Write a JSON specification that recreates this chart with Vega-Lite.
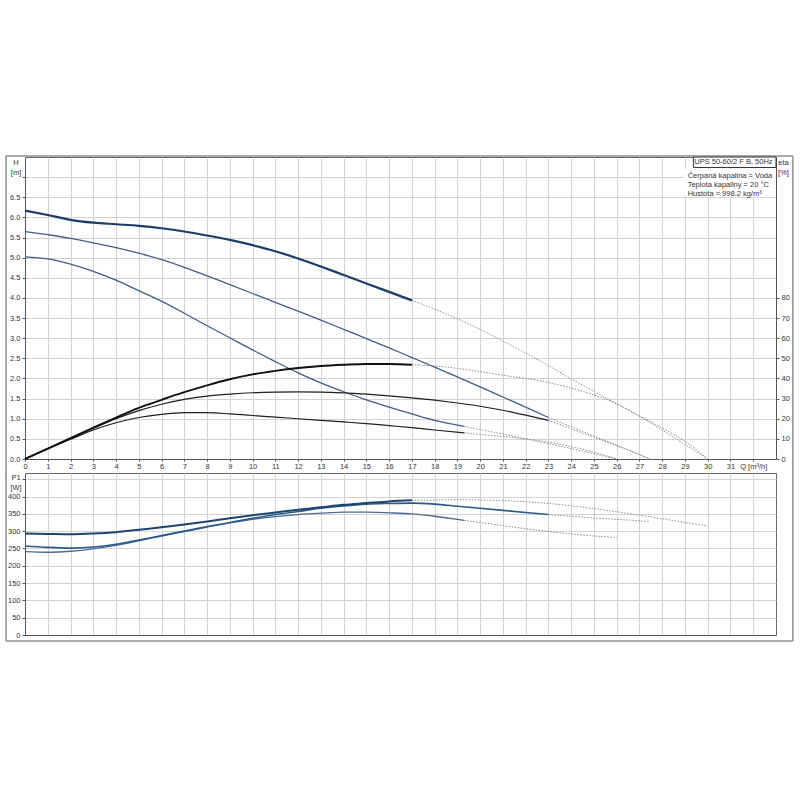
{
  "$schema": "https://vega.github.io/schema/vega-lite/v6.json",
  "background": "white",
  "padding": {"left": 4, "top": 154, "right": 4, "bottom": 4},
  "autosize": {"type": "pad"},
  "spacing": 14,
  "bounds": "flush",
  "datasets": {
    "hs": [
      {"s":"1","q":0,"v":6.17},{"s":"1","q":1,"v":6.06},{"s":"1","q":2,"v":5.94},{"s":"1","q":3,"v":5.87},{"s":"1","q":4,"v":5.83},{"s":"1","q":5,"v":5.79},{"s":"1","q":6,"v":5.73},{"s":"1","q":7,"v":5.65},{"s":"1","q":8,"v":5.55},{"s":"1","q":9,"v":5.44},{"s":"1","q":10,"v":5.31},{"s":"1","q":11,"v":5.16},{"s":"1","q":12,"v":4.98},{"s":"1","q":13,"v":4.78},{"s":"1","q":14,"v":4.57},{"s":"1","q":15,"v":4.36},{"s":"1","q":16,"v":4.15},{"s":"1","q":17,"v":3.94},
      {"s":"2","q":0,"v":5.65},{"s":"2","q":1,"v":5.57},{"s":"2","q":2,"v":5.48},{"s":"2","q":3,"v":5.37},{"s":"2","q":4,"v":5.25},{"s":"2","q":5,"v":5.11},{"s":"2","q":6,"v":4.95},{"s":"2","q":7,"v":4.76},{"s":"2","q":8,"v":4.55},{"s":"2","q":9,"v":4.33},{"s":"2","q":10,"v":4.11},{"s":"2","q":11,"v":3.89},{"s":"2","q":12,"v":3.67},{"s":"2","q":13,"v":3.45},{"s":"2","q":14,"v":3.22},{"s":"2","q":15,"v":2.99},{"s":"2","q":16,"v":2.76},{"s":"2","q":17,"v":2.52},{"s":"2","q":18,"v":2.28},{"s":"2","q":19,"v":2.04},{"s":"2","q":20,"v":1.79},{"s":"2","q":21,"v":1.54},{"s":"2","q":22,"v":1.29},{"s":"2","q":23,"v":1.03},
      {"s":"3","q":0,"v":5.02},{"s":"3","q":1,"v":4.97},{"s":"3","q":2,"v":4.84},{"s":"3","q":3,"v":4.66},{"s":"3","q":4,"v":4.44},{"s":"3","q":5,"v":4.18},{"s":"3","q":6,"v":3.92},{"s":"3","q":7,"v":3.62},{"s":"3","q":8,"v":3.31},{"s":"3","q":9,"v":3.01},{"s":"3","q":10,"v":2.71},{"s":"3","q":11,"v":2.42},{"s":"3","q":12,"v":2.14},{"s":"3","q":13,"v":1.89},{"s":"3","q":14,"v":1.67},{"s":"3","q":15,"v":1.47},{"s":"3","q":16,"v":1.29},{"s":"3","q":17,"v":1.12},{"s":"3","q":18,"v":0.96},{"s":"3","q":19.3,"v":0.81}
    ],
    "hx": [
      {"s":"1","q":17,"v":3.94},{"s":"1","q":18,"v":3.72},{"s":"1","q":19,"v":3.48},{"s":"1","q":20,"v":3.22},{"s":"1","q":21,"v":2.93},{"s":"1","q":22,"v":2.63},{"s":"1","q":23,"v":2.32},{"s":"1","q":24,"v":1.99},{"s":"1","q":25,"v":1.68},{"s":"1","q":26,"v":1.37},{"s":"1","q":27,"v":1.07},{"s":"1","q":28,"v":0.77},{"s":"1","q":29,"v":0.44},{"s":"1","q":30,"v":0},
      {"s":"2","q":23,"v":1.03},{"s":"2","q":24,"v":0.8},{"s":"2","q":25,"v":0.57},{"s":"2","q":26,"v":0.34},{"s":"2","q":27,"v":0.11},{"s":"2","q":27.45,"v":0},
      {"s":"3","q":19.3,"v":0.81},{"s":"3","q":20,"v":0.73},{"s":"3","q":21,"v":0.62},{"s":"3","q":22,"v":0.5},{"s":"3","q":23,"v":0.38},{"s":"3","q":24,"v":0.26},{"s":"3","q":25,"v":0.13},{"s":"3","q":26,"v":0}
    ],
    "es": [
      {"s":"1","q":0,"v":0},{"s":"1","q":1,"v":5.2},{"s":"1","q":2,"v":10.4},{"s":"1","q":3,"v":15.6},{"s":"1","q":4,"v":20.6},{"s":"1","q":5,"v":25.4},{"s":"1","q":6,"v":29.4},{"s":"1","q":7,"v":33.2},{"s":"1","q":8,"v":36.6},{"s":"1","q":9,"v":39.6},{"s":"1","q":10,"v":42},{"s":"1","q":11,"v":43.8},{"s":"1","q":12,"v":45.2},{"s":"1","q":13,"v":46.2},{"s":"1","q":14,"v":46.8},{"s":"1","q":15,"v":47.2},{"s":"1","q":16,"v":47.2},{"s":"1","q":17,"v":46.8},
      {"s":"2","q":0,"v":0},{"s":"2","q":1,"v":5.2},{"s":"2","q":2,"v":10.2},{"s":"2","q":3,"v":15.2},{"s":"2","q":4,"v":20},{"s":"2","q":5,"v":24},{"s":"2","q":6,"v":27.2},{"s":"2","q":7,"v":29.6},{"s":"2","q":8,"v":31.2},{"s":"2","q":9,"v":32.2},{"s":"2","q":10,"v":32.9},{"s":"2","q":11,"v":33.2},{"s":"2","q":12,"v":33.3},{"s":"2","q":13,"v":33.2},{"s":"2","q":14,"v":32.8},{"s":"2","q":15,"v":32.2},{"s":"2","q":16,"v":31.4},{"s":"2","q":17,"v":30.4},{"s":"2","q":18,"v":29.2},{"s":"2","q":19,"v":27.8},{"s":"2","q":20,"v":26.2},{"s":"2","q":21,"v":24.2},{"s":"2","q":22,"v":21.8},{"s":"2","q":23,"v":19.2},
      {"s":"3","q":0,"v":0},{"s":"3","q":1,"v":5},{"s":"3","q":2,"v":9.8},{"s":"3","q":3,"v":14.4},{"s":"3","q":4,"v":18},{"s":"3","q":5,"v":20.6},{"s":"3","q":6,"v":22.2},{"s":"3","q":7,"v":23},{"s":"3","q":8,"v":23},{"s":"3","q":9,"v":22.4},{"s":"3","q":10,"v":21.6},{"s":"3","q":11,"v":20.8},{"s":"3","q":12,"v":20},{"s":"3","q":13,"v":19.2},{"s":"3","q":14,"v":18.4},{"s":"3","q":15,"v":17.6},{"s":"3","q":16,"v":16.6},{"s":"3","q":17,"v":15.6},{"s":"3","q":18,"v":14.4},{"s":"3","q":19.3,"v":13}
    ],
    "ex": [
      {"s":"1","q":17,"v":46.8},{"s":"1","q":18,"v":46.2},{"s":"1","q":19,"v":45},{"s":"1","q":20,"v":43.4},{"s":"1","q":21,"v":41.6},{"s":"1","q":22,"v":40},{"s":"1","q":23,"v":38},{"s":"1","q":24,"v":35.2},{"s":"1","q":25,"v":31.8},{"s":"1","q":26,"v":27.4},{"s":"1","q":27,"v":21.2},{"s":"1","q":28,"v":14.4},{"s":"1","q":29,"v":7.2},{"s":"1","q":30,"v":0},
      {"s":"2","q":23,"v":19.2},{"s":"2","q":24,"v":15},{"s":"2","q":25,"v":10.8},{"s":"2","q":26,"v":6.6},{"s":"2","q":27,"v":2.2},{"s":"2","q":27.45,"v":0},
      {"s":"3","q":19.3,"v":13},{"s":"3","q":20,"v":12.2},{"s":"3","q":21,"v":11.2},{"s":"3","q":22,"v":10},{"s":"3","q":23,"v":8.4},{"s":"3","q":24,"v":6.2},{"s":"3","q":25,"v":3.4},{"s":"3","q":26,"v":0}
    ],
    "ps": [
      {"s":"1","q":0,"v":293},{"s":"1","q":1,"v":292},{"s":"1","q":2,"v":291},{"s":"1","q":3,"v":293},{"s":"1","q":4,"v":297},{"s":"1","q":5,"v":304},{"s":"1","q":6,"v":311},{"s":"1","q":7,"v":319},{"s":"1","q":8,"v":328},{"s":"1","q":9,"v":337},{"s":"1","q":10,"v":346},{"s":"1","q":11,"v":354},{"s":"1","q":12,"v":362},{"s":"1","q":13,"v":369},{"s":"1","q":14,"v":376},{"s":"1","q":15,"v":381},{"s":"1","q":16,"v":386},{"s":"1","q":17,"v":389},
      {"s":"2","q":0,"v":257},{"s":"2","q":1,"v":253},{"s":"2","q":2,"v":251},{"s":"2","q":3,"v":254},{"s":"2","q":4,"v":262},{"s":"2","q":5,"v":274},{"s":"2","q":6,"v":287},{"s":"2","q":7,"v":300},{"s":"2","q":8,"v":313},{"s":"2","q":9,"v":325},{"s":"2","q":10,"v":337},{"s":"2","q":11,"v":348},{"s":"2","q":12,"v":357},{"s":"2","q":13,"v":366},{"s":"2","q":14,"v":373},{"s":"2","q":15,"v":378},{"s":"2","q":16,"v":380},{"s":"2","q":17,"v":381},{"s":"2","q":18,"v":378},{"s":"2","q":19,"v":372},{"s":"2","q":20,"v":366},{"s":"2","q":21,"v":360},{"s":"2","q":22,"v":354},{"s":"2","q":23,"v":348},
      {"s":"3","q":0,"v":241},{"s":"3","q":1,"v":239},{"s":"3","q":2,"v":242},{"s":"3","q":3,"v":249},{"s":"3","q":4,"v":259},{"s":"3","q":5,"v":272},{"s":"3","q":6,"v":286},{"s":"3","q":7,"v":299},{"s":"3","q":8,"v":312},{"s":"3","q":9,"v":324},{"s":"3","q":10,"v":334},{"s":"3","q":11,"v":342},{"s":"3","q":12,"v":348},{"s":"3","q":13,"v":352},{"s":"3","q":14,"v":355},{"s":"3","q":15,"v":355},{"s":"3","q":16,"v":353},{"s":"3","q":17,"v":350},{"s":"3","q":18,"v":343},{"s":"3","q":19,"v":334},{"s":"3","q":19.3,"v":331}
    ],
    "px": [
      {"s":"1","q":17,"v":389},{"s":"1","q":18,"v":390},{"s":"1","q":19,"v":391},{"s":"1","q":20,"v":390},{"s":"1","q":21,"v":388},{"s":"1","q":22,"v":385},{"s":"1","q":23,"v":380},{"s":"1","q":24,"v":373},{"s":"1","q":25,"v":365},{"s":"1","q":26,"v":356},{"s":"1","q":27,"v":346},{"s":"1","q":28,"v":336},{"s":"1","q":29,"v":325},{"s":"1","q":30,"v":315},
      {"s":"2","q":23,"v":348},{"s":"2","q":24,"v":343},{"s":"2","q":25,"v":338},{"s":"2","q":26,"v":334},{"s":"2","q":27,"v":330},{"s":"2","q":27.45,"v":328},
      {"s":"3","q":19.3,"v":331},{"s":"3","q":20,"v":325},{"s":"3","q":21,"v":316},{"s":"3","q":22,"v":307},{"s":"3","q":23,"v":299},{"s":"3","q":24,"v":292},{"s":"3","q":25,"v":286},{"s":"3","q":26,"v":282}
    ]
  },
  "vconcat": [
    {
      "width": 751,
      "height": 302,
      "layer": [
        {
          "layer": [
            {
              "data": {"values": [{}]},
              "mark": {"type": "rule", "color": "#8f8f8f", "strokeWidth": 1.5},
              "encoding": {
                "x": {"datum": -0.835, "type": "quantitative", "scale": {"domain": [0, 33], "nice": false, "zero": false},
                  "axis": {"values": [0,1,2,3,4,5,6,7,8,9,10,11,12,13,14,15,16,17,18,19,20,21,22,23,24,25,26,27,28,29,30,31,32], "format": "d", "labelExpr": "datum.value == 32 ? 'Q [m³/h]' : datum.label", "title": null, "grid": true, "tickSize": 2, "labelPadding": 1, "labelFlush": false, "labelOverlap": false, "labelBound": false}},
                "y": {"datum": -0.36, "type": "quantitative", "scale": {"domain": [0, 7.5], "nice": false, "zero": false},
                  "axis": {"values": [0,0.5,1,1.5,2,2.5,3,3.5,4,4.5,5,5.5,6,6.5,7], "labelExpr": "datum.value > 6.9 ? '' : format(datum.value, '.1f')", "title": ["H", "[m]"], "titleAngle": 0, "titleAlign": "center", "titleBaseline": "top", "titleX": -9.5, "titleY": 1, "tickSize": 3, "labelPadding": 2, "grid": true, "labelFlush": false, "labelOverlap": false}},
                "y2": {"datum": 7.524}
              }
            },
            {
              "data": {"values": [{}]},
              "mark": {"type": "rule", "color": "#8f8f8f", "strokeWidth": 1.5},
              "encoding": {
                "x": {"datum": 33.74, "type": "quantitative", "scale": {"domain": [0, 33], "nice": false, "zero": false},
                  "axis": {"values": [0,1,2,3,4,5,6,7,8,9,10,11,12,13,14,15,16,17,18,19,20,21,22,23,24,25,26,27,28,29,30,31,32], "format": "d", "labelExpr": "datum.value == 32 ? 'Q [m³/h]' : datum.label", "title": null, "grid": true, "tickSize": 2, "labelPadding": 1, "labelFlush": false, "labelOverlap": false, "labelBound": false}},
                "y": {"datum": -0.36, "type": "quantitative", "scale": {"domain": [0, 7.5], "nice": false, "zero": false},
                  "axis": {"values": [0,0.5,1,1.5,2,2.5,3,3.5,4,4.5,5,5.5,6,6.5,7], "labelExpr": "datum.value > 6.9 ? '' : format(datum.value, '.1f')", "title": ["H", "[m]"], "titleAngle": 0, "titleAlign": "center", "titleBaseline": "top", "titleX": -9.5, "titleY": 1, "tickSize": 3, "labelPadding": 2, "grid": true, "labelFlush": false, "labelOverlap": false}},
                "y2": {"datum": 7.524}
              }
            },
            {
              "data": {"values": [{}]},
              "mark": {"type": "rule", "color": "#8f8f8f", "strokeWidth": 1.5},
              "encoding": {
                "x": {"datum": -0.835, "type": "quantitative", "scale": {"domain": [0, 33], "nice": false, "zero": false},
                  "axis": {"values": [0,1,2,3,4,5,6,7,8,9,10,11,12,13,14,15,16,17,18,19,20,21,22,23,24,25,26,27,28,29,30,31,32], "format": "d", "labelExpr": "datum.value == 32 ? 'Q [m³/h]' : datum.label", "title": null, "grid": true, "tickSize": 2, "labelPadding": 1, "labelFlush": false, "labelOverlap": false, "labelBound": false}},
                "x2": {"datum": 33.74},
                "y": {"datum": 7.524, "type": "quantitative", "scale": {"domain": [0, 7.5], "nice": false, "zero": false},
                  "axis": {"values": [0,0.5,1,1.5,2,2.5,3,3.5,4,4.5,5,5.5,6,6.5,7], "labelExpr": "datum.value > 6.9 ? '' : format(datum.value, '.1f')", "title": ["H", "[m]"], "titleAngle": 0, "titleAlign": "center", "titleBaseline": "top", "titleX": -9.5, "titleY": 1, "tickSize": 3, "labelPadding": 2, "grid": true, "labelFlush": false, "labelOverlap": false}}
              }
            },
            {
              "data": {"values": [{}]},
              "mark": {"type": "rect", "fill": "white", "strokeWidth": 0},
              "encoding": {
                "x": {"datum": 28.95, "type": "quantitative", "scale": {"domain": [0, 33], "nice": false, "zero": false},
                  "axis": {"values": [0,1,2,3,4,5,6,7,8,9,10,11,12,13,14,15,16,17,18,19,20,21,22,23,24,25,26,27,28,29,30,31,32], "format": "d", "labelExpr": "datum.value == 32 ? 'Q [m³/h]' : datum.label", "title": null, "grid": true, "tickSize": 2, "labelPadding": 1, "labelFlush": false, "labelOverlap": false, "labelBound": false}},
                "x2": {"datum": 32.95},
                "y": {"datum": 7.2, "type": "quantitative", "scale": {"domain": [0, 7.5], "nice": false, "zero": false},
                  "axis": {"values": [0,0.5,1,1.5,2,2.5,3,3.5,4,4.5,5,5.5,6,6.5,7], "labelExpr": "datum.value > 6.9 ? '' : format(datum.value, '.1f')", "title": ["H", "[m]"], "titleAngle": 0, "titleAlign": "center", "titleBaseline": "top", "titleX": -9.5, "titleY": 1, "tickSize": 3, "labelPadding": 2, "grid": true, "labelFlush": false, "labelOverlap": false}},
                "y2": {"datum": 6.52}
              }
            },
            {
              "data": {"values": [{}]},
              "mark": {"type": "rect", "fill": "white", "stroke": "#333333", "strokeWidth": 1},
              "encoding": {
                "x": {"datum": 29.37, "type": "quantitative", "scale": {"domain": [0, 33], "nice": false, "zero": false},
                  "axis": {"values": [0,1,2,3,4,5,6,7,8,9,10,11,12,13,14,15,16,17,18,19,20,21,22,23,24,25,26,27,28,29,30,31,32], "format": "d", "labelExpr": "datum.value == 32 ? 'Q [m³/h]' : datum.label", "title": null, "grid": true, "tickSize": 2, "labelPadding": 1, "labelFlush": false, "labelOverlap": false, "labelBound": false}},
                "x2": {"datum": 33},
                "y": {"datum": 7.5, "type": "quantitative", "scale": {"domain": [0, 7.5], "nice": false, "zero": false},
                  "axis": {"values": [0,0.5,1,1.5,2,2.5,3,3.5,4,4.5,5,5.5,6,6.5,7], "labelExpr": "datum.value > 6.9 ? '' : format(datum.value, '.1f')", "title": ["H", "[m]"], "titleAngle": 0, "titleAlign": "center", "titleBaseline": "top", "titleX": -9.5, "titleY": 1, "tickSize": 3, "labelPadding": 2, "grid": true, "labelFlush": false, "labelOverlap": false}},
                "y2": {"datum": 7.24}
              }
            },
            {
              "data": {"values": [{"t": "UPS 50-60/2 F B, 50Hz"}]},
              "mark": {"type": "text", "align": "right", "baseline": "middle", "fontSize": 7.5, "font": "Liberation Sans", "color": "#333333"},
              "encoding": {
                "x": {"datum": 32.85, "type": "quantitative", "scale": {"domain": [0, 33], "nice": false, "zero": false},
                  "axis": {"values": [0,1,2,3,4,5,6,7,8,9,10,11,12,13,14,15,16,17,18,19,20,21,22,23,24,25,26,27,28,29,30,31,32], "format": "d", "labelExpr": "datum.value == 32 ? 'Q [m³/h]' : datum.label", "title": null, "grid": true, "tickSize": 2, "labelPadding": 1, "labelFlush": false, "labelOverlap": false, "labelBound": false}},
                "y": {"datum": 7.37, "type": "quantitative", "scale": {"domain": [0, 7.5], "nice": false, "zero": false},
                  "axis": {"values": [0,0.5,1,1.5,2,2.5,3,3.5,4,4.5,5,5.5,6,6.5,7], "labelExpr": "datum.value > 6.9 ? '' : format(datum.value, '.1f')", "title": ["H", "[m]"], "titleAngle": 0, "titleAlign": "center", "titleBaseline": "top", "titleX": -9.5, "titleY": 1, "tickSize": 3, "labelPadding": 2, "grid": true, "labelFlush": false, "labelOverlap": false}},
                "text": {"field": "t"}
              }
            },
            {
              "data": {"values": [{"t": "Čerpaná kapalina = Voda", "k": 7.02}, {"t": "Teplota kapaliny = 20 °C", "k": 6.8}, {"t": "Hustota = 998.2 kg/m³", "k": 6.59}]},
              "mark": {"type": "text", "align": "left", "baseline": "middle", "fontSize": 7.5, "font": "Liberation Sans", "color": "#333333"},
              "encoding": {
                "x": {"datum": 29.12, "type": "quantitative", "scale": {"domain": [0, 33], "nice": false, "zero": false},
                  "axis": {"values": [0,1,2,3,4,5,6,7,8,9,10,11,12,13,14,15,16,17,18,19,20,21,22,23,24,25,26,27,28,29,30,31,32], "format": "d", "labelExpr": "datum.value == 32 ? 'Q [m³/h]' : datum.label", "title": null, "grid": true, "tickSize": 2, "labelPadding": 1, "labelFlush": false, "labelOverlap": false, "labelBound": false}},
                "y": {"field": "k", "type": "quantitative", "scale": {"domain": [0, 7.5], "nice": false, "zero": false},
                  "axis": {"values": [0,0.5,1,1.5,2,2.5,3,3.5,4,4.5,5,5.5,6,6.5,7], "labelExpr": "datum.value > 6.9 ? '' : format(datum.value, '.1f')", "title": ["H", "[m]"], "titleAngle": 0, "titleAlign": "center", "titleBaseline": "top", "titleX": -9.5, "titleY": 1, "tickSize": 3, "labelPadding": 2, "grid": true, "labelFlush": false, "labelOverlap": false}},
                "text": {"field": "t"}
              }
            },
            {
              "data": {"name": "hx"},
              "mark": {"type": "line", "color": "#8c8c8c", "strokeWidth": 1, "strokeDash": [1.5, 1.5], "interpolate": "monotone"},
              "encoding": {
                "x": {"field": "q", "type": "quantitative", "scale": {"domain": [0, 33], "nice": false, "zero": false},
                  "axis": {"values": [0,1,2,3,4,5,6,7,8,9,10,11,12,13,14,15,16,17,18,19,20,21,22,23,24,25,26,27,28,29,30,31,32], "format": "d", "labelExpr": "datum.value == 32 ? 'Q [m³/h]' : datum.label", "title": null, "grid": true, "tickSize": 2, "labelPadding": 1, "labelFlush": false, "labelOverlap": false, "labelBound": false}},
                "y": {"field": "v", "type": "quantitative", "scale": {"domain": [0, 7.5], "nice": false, "zero": false},
                  "axis": {"values": [0,0.5,1,1.5,2,2.5,3,3.5,4,4.5,5,5.5,6,6.5,7], "labelExpr": "datum.value > 6.9 ? '' : format(datum.value, '.1f')", "title": ["H", "[m]"], "titleAngle": 0, "titleAlign": "center", "titleBaseline": "top", "titleX": -9.5, "titleY": 1, "tickSize": 3, "labelPadding": 2, "grid": true, "labelFlush": false, "labelOverlap": false}},
                "detail": {"field": "s"}
              }
            },
            {
              "data": {"name": "hs"},
              "transform": [{"filter": "datum.s != '1'"}],
              "mark": {"type": "line", "color": "#3f5f86", "strokeWidth": 1.3, "interpolate": "monotone"},
              "encoding": {
                "x": {"field": "q", "type": "quantitative", "scale": {"domain": [0, 33], "nice": false, "zero": false},
                  "axis": {"values": [0,1,2,3,4,5,6,7,8,9,10,11,12,13,14,15,16,17,18,19,20,21,22,23,24,25,26,27,28,29,30,31,32], "format": "d", "labelExpr": "datum.value == 32 ? 'Q [m³/h]' : datum.label", "title": null, "grid": true, "tickSize": 2, "labelPadding": 1, "labelFlush": false, "labelOverlap": false, "labelBound": false}},
                "y": {"field": "v", "type": "quantitative", "scale": {"domain": [0, 7.5], "nice": false, "zero": false},
                  "axis": {"values": [0,0.5,1,1.5,2,2.5,3,3.5,4,4.5,5,5.5,6,6.5,7], "labelExpr": "datum.value > 6.9 ? '' : format(datum.value, '.1f')", "title": ["H", "[m]"], "titleAngle": 0, "titleAlign": "center", "titleBaseline": "top", "titleX": -9.5, "titleY": 1, "tickSize": 3, "labelPadding": 2, "grid": true, "labelFlush": false, "labelOverlap": false}},
                "detail": {"field": "s"}
              }
            },
            {
              "data": {"name": "hs"},
              "transform": [{"filter": "datum.s == '1'"}],
              "mark": {"type": "line", "color": "#1c3c68", "strokeWidth": 2.2, "interpolate": "monotone"},
              "encoding": {
                "x": {"field": "q", "type": "quantitative", "scale": {"domain": [0, 33], "nice": false, "zero": false},
                  "axis": {"values": [0,1,2,3,4,5,6,7,8,9,10,11,12,13,14,15,16,17,18,19,20,21,22,23,24,25,26,27,28,29,30,31,32], "format": "d", "labelExpr": "datum.value == 32 ? 'Q [m³/h]' : datum.label", "title": null, "grid": true, "tickSize": 2, "labelPadding": 1, "labelFlush": false, "labelOverlap": false, "labelBound": false}},
                "y": {"field": "v", "type": "quantitative", "scale": {"domain": [0, 7.5], "nice": false, "zero": false},
                  "axis": {"values": [0,0.5,1,1.5,2,2.5,3,3.5,4,4.5,5,5.5,6,6.5,7], "labelExpr": "datum.value > 6.9 ? '' : format(datum.value, '.1f')", "title": ["H", "[m]"], "titleAngle": 0, "titleAlign": "center", "titleBaseline": "top", "titleX": -9.5, "titleY": 1, "tickSize": 3, "labelPadding": 2, "grid": true, "labelFlush": false, "labelOverlap": false}}
              }
            }
          ]
        },
        {
          "layer": [
            {
              "data": {"name": "ex"},
              "mark": {"type": "line", "color": "#8c8c8c", "strokeWidth": 1, "strokeDash": [1.5, 1.5], "interpolate": "monotone"},
              "encoding": {
                "x": {"field": "q", "type": "quantitative", "scale": {"domain": [0, 33], "nice": false, "zero": false},
                  "axis": {"values": [0,1,2,3,4,5,6,7,8,9,10,11,12,13,14,15,16,17,18,19,20,21,22,23,24,25,26,27,28,29,30,31,32], "format": "d", "labelExpr": "datum.value == 32 ? 'Q [m³/h]' : datum.label", "title": null, "grid": true, "tickSize": 2, "labelPadding": 1, "labelFlush": false, "labelOverlap": false, "labelBound": false}},
                "y": {"field": "v", "type": "quantitative", "scale": {"domain": [0, 150], "nice": false, "zero": false},
                  "axis": {"orient": "right", "values": [0,10,20,30,40,50,60,70,80], "title": ["eta", "[%]"], "titleAngle": 0, "titleAlign": "center", "titleBaseline": "top", "titleX": 7, "titleY": 1, "grid": false, "tickSize": 3, "labelPadding": 2, "labelFlush": false, "labelOverlap": false}},
                "detail": {"field": "s"}
              }
            },
            {
              "data": {"name": "es"},
              "transform": [{"filter": "datum.s != '1'"}],
              "mark": {"type": "line", "color": "#1e1e1e", "strokeWidth": 1.2, "interpolate": "monotone"},
              "encoding": {
                "x": {"field": "q", "type": "quantitative", "scale": {"domain": [0, 33], "nice": false, "zero": false},
                  "axis": {"values": [0,1,2,3,4,5,6,7,8,9,10,11,12,13,14,15,16,17,18,19,20,21,22,23,24,25,26,27,28,29,30,31,32], "format": "d", "labelExpr": "datum.value == 32 ? 'Q [m³/h]' : datum.label", "title": null, "grid": true, "tickSize": 2, "labelPadding": 1, "labelFlush": false, "labelOverlap": false, "labelBound": false}},
                "y": {"field": "v", "type": "quantitative", "scale": {"domain": [0, 150], "nice": false, "zero": false},
                  "axis": {"orient": "right", "values": [0,10,20,30,40,50,60,70,80], "title": ["eta", "[%]"], "titleAngle": 0, "titleAlign": "center", "titleBaseline": "top", "titleX": 7, "titleY": 1, "grid": false, "tickSize": 3, "labelPadding": 2, "labelFlush": false, "labelOverlap": false}},
                "detail": {"field": "s"}
              }
            },
            {
              "data": {"name": "es"},
              "transform": [{"filter": "datum.s == '1'"}],
              "mark": {"type": "line", "color": "#111111", "strokeWidth": 1.9, "interpolate": "monotone"},
              "encoding": {
                "x": {"field": "q", "type": "quantitative", "scale": {"domain": [0, 33], "nice": false, "zero": false},
                  "axis": {"values": [0,1,2,3,4,5,6,7,8,9,10,11,12,13,14,15,16,17,18,19,20,21,22,23,24,25,26,27,28,29,30,31,32], "format": "d", "labelExpr": "datum.value == 32 ? 'Q [m³/h]' : datum.label", "title": null, "grid": true, "tickSize": 2, "labelPadding": 1, "labelFlush": false, "labelOverlap": false, "labelBound": false}},
                "y": {"field": "v", "type": "quantitative", "scale": {"domain": [0, 150], "nice": false, "zero": false},
                  "axis": {"orient": "right", "values": [0,10,20,30,40,50,60,70,80], "title": ["eta", "[%]"], "titleAngle": 0, "titleAlign": "center", "titleBaseline": "top", "titleX": 7, "titleY": 1, "grid": false, "tickSize": 3, "labelPadding": 2, "labelFlush": false, "labelOverlap": false}}
              }
            }
          ]
        }
      ],
      "resolve": {"scale": {"y": "independent"}, "axis": {"y": "independent"}}
    },
    {
      "width": 751,
      "height": 162,
      "layer": [
        {
          "data": {"values": [{}]},
          "mark": {"type": "rule", "color": "#8f8f8f", "strokeWidth": 1.5},
          "encoding": {
            "x": {"datum": -0.835, "type": "quantitative", "scale": {"domain": [0, 33], "nice": false, "zero": false},
              "axis": {"values": [0,1,2,3,4,5,6,7,8,9,10,11,12,13,14,15,16,17,18,19,20,21,22,23,24,25,26,27,28,29,30,31,32], "labels": false, "ticks": false, "title": null, "grid": true}},
            "y": {"datum": -17.3, "type": "quantitative", "scale": {"domain": [0, 468], "nice": false, "zero": false},
              "axis": {"values": [0,50,100,150,200,250,300,350,400,450], "labelExpr": "datum.value > 420 ? '' : datum.label", "title": ["P1", "[W]"], "titleAngle": 0, "titleAlign": "center", "titleBaseline": "top", "titleX": -9.5, "titleY": 0, "tickSize": 3, "labelPadding": 2, "grid": true, "labelFlush": false, "labelOverlap": false}},
            "y2": {"datum": 469}
          }
        },
        {
          "data": {"values": [{}]},
          "mark": {"type": "rule", "color": "#8f8f8f", "strokeWidth": 1.5},
          "encoding": {
            "x": {"datum": 33.74, "type": "quantitative", "scale": {"domain": [0, 33], "nice": false, "zero": false},
              "axis": {"values": [0,1,2,3,4,5,6,7,8,9,10,11,12,13,14,15,16,17,18,19,20,21,22,23,24,25,26,27,28,29,30,31,32], "labels": false, "ticks": false, "title": null, "grid": true}},
            "y": {"datum": -17.3, "type": "quantitative", "scale": {"domain": [0, 468], "nice": false, "zero": false},
              "axis": {"values": [0,50,100,150,200,250,300,350,400,450], "labelExpr": "datum.value > 420 ? '' : datum.label", "title": ["P1", "[W]"], "titleAngle": 0, "titleAlign": "center", "titleBaseline": "top", "titleX": -9.5, "titleY": 0, "tickSize": 3, "labelPadding": 2, "grid": true, "labelFlush": false, "labelOverlap": false}},
            "y2": {"datum": 469}
          }
        },
        {
          "data": {"values": [{}]},
          "mark": {"type": "rule", "color": "#8f8f8f", "strokeWidth": 1.5},
          "encoding": {
            "x": {"datum": -0.835, "type": "quantitative", "scale": {"domain": [0, 33], "nice": false, "zero": false},
              "axis": {"values": [0,1,2,3,4,5,6,7,8,9,10,11,12,13,14,15,16,17,18,19,20,21,22,23,24,25,26,27,28,29,30,31,32], "labels": false, "ticks": false, "title": null, "grid": true}},
            "x2": {"datum": 33.74},
            "y": {"datum": -17.3, "type": "quantitative", "scale": {"domain": [0, 468], "nice": false, "zero": false},
              "axis": {"values": [0,50,100,150,200,250,300,350,400,450], "labelExpr": "datum.value > 420 ? '' : datum.label", "title": ["P1", "[W]"], "titleAngle": 0, "titleAlign": "center", "titleBaseline": "top", "titleX": -9.5, "titleY": 0, "tickSize": 3, "labelPadding": 2, "grid": true, "labelFlush": false, "labelOverlap": false}}
          }
        },
        {
          "data": {"name": "px"},
          "mark": {"type": "line", "color": "#8c8c8c", "strokeWidth": 1, "strokeDash": [1.5, 1.5], "interpolate": "monotone"},
          "encoding": {
            "x": {"field": "q", "type": "quantitative", "scale": {"domain": [0, 33], "nice": false, "zero": false},
              "axis": {"values": [0,1,2,3,4,5,6,7,8,9,10,11,12,13,14,15,16,17,18,19,20,21,22,23,24,25,26,27,28,29,30,31,32], "labels": false, "ticks": false, "title": null, "grid": true}},
            "y": {"field": "v", "type": "quantitative", "scale": {"domain": [0, 468], "nice": false, "zero": false},
              "axis": {"values": [0,50,100,150,200,250,300,350,400,450], "labelExpr": "datum.value > 420 ? '' : datum.label", "title": ["P1", "[W]"], "titleAngle": 0, "titleAlign": "center", "titleBaseline": "top", "titleX": -9.5, "titleY": 0, "tickSize": 3, "labelPadding": 2, "grid": true, "labelFlush": false, "labelOverlap": false}},
            "detail": {"field": "s"}
          }
        },
        {
          "data": {"name": "ps"},
          "transform": [{"filter": "datum.s == '3'"}],
          "mark": {"type": "line", "color": "#4a6b90", "strokeWidth": 1.3, "interpolate": "monotone"},
          "encoding": {
            "x": {"field": "q", "type": "quantitative", "scale": {"domain": [0, 33], "nice": false, "zero": false},
              "axis": {"values": [0,1,2,3,4,5,6,7,8,9,10,11,12,13,14,15,16,17,18,19,20,21,22,23,24,25,26,27,28,29,30,31,32], "labels": false, "ticks": false, "title": null, "grid": true}},
            "y": {"field": "v", "type": "quantitative", "scale": {"domain": [0, 468], "nice": false, "zero": false},
              "axis": {"values": [0,50,100,150,200,250,300,350,400,450], "labelExpr": "datum.value > 420 ? '' : datum.label", "title": ["P1", "[W]"], "titleAngle": 0, "titleAlign": "center", "titleBaseline": "top", "titleX": -9.5, "titleY": 0, "tickSize": 3, "labelPadding": 2, "grid": true, "labelFlush": false, "labelOverlap": false}}
          }
        },
        {
          "data": {"name": "ps"},
          "transform": [{"filter": "datum.s == '2'"}],
          "mark": {"type": "line", "color": "#2c5a88", "strokeWidth": 1.6, "interpolate": "monotone"},
          "encoding": {
            "x": {"field": "q", "type": "quantitative", "scale": {"domain": [0, 33], "nice": false, "zero": false},
              "axis": {"values": [0,1,2,3,4,5,6,7,8,9,10,11,12,13,14,15,16,17,18,19,20,21,22,23,24,25,26,27,28,29,30,31,32], "labels": false, "ticks": false, "title": null, "grid": true}},
            "y": {"field": "v", "type": "quantitative", "scale": {"domain": [0, 468], "nice": false, "zero": false},
              "axis": {"values": [0,50,100,150,200,250,300,350,400,450], "labelExpr": "datum.value > 420 ? '' : datum.label", "title": ["P1", "[W]"], "titleAngle": 0, "titleAlign": "center", "titleBaseline": "top", "titleX": -9.5, "titleY": 0, "tickSize": 3, "labelPadding": 2, "grid": true, "labelFlush": false, "labelOverlap": false}}
          }
        },
        {
          "data": {"name": "ps"},
          "transform": [{"filter": "datum.s == '1'"}],
          "mark": {"type": "line", "color": "#1f4470", "strokeWidth": 2, "interpolate": "monotone"},
          "encoding": {
            "x": {"field": "q", "type": "quantitative", "scale": {"domain": [0, 33], "nice": false, "zero": false},
              "axis": {"values": [0,1,2,3,4,5,6,7,8,9,10,11,12,13,14,15,16,17,18,19,20,21,22,23,24,25,26,27,28,29,30,31,32], "labels": false, "ticks": false, "title": null, "grid": true}},
            "y": {"field": "v", "type": "quantitative", "scale": {"domain": [0, 468], "nice": false, "zero": false},
              "axis": {"values": [0,50,100,150,200,250,300,350,400,450], "labelExpr": "datum.value > 420 ? '' : datum.label", "title": ["P1", "[W]"], "titleAngle": 0, "titleAlign": "center", "titleBaseline": "top", "titleX": -9.5, "titleY": 0, "tickSize": 3, "labelPadding": 2, "grid": true, "labelFlush": false, "labelOverlap": false}}
          }
        }
      ]
    }
  ],
  "config": {
    "font": "Liberation Sans",
    "view": {"stroke": "#666666", "strokeWidth": 1},
    "axis": {
      "gridColor": "#d2d2d2",
      "gridWidth": 1,
      "domainColor": "#555555",
      "tickColor": "#555555",
      "labelColor": "#333333",
      "labelFont": "Liberation Sans",
      "labelFontSize": 7.5,
      "labelOverlap": false,
      "labelFlush": false,
      "titleFont": "Liberation Sans",
      "titleFontSize": 7.5,
      "titleFontWeight": "normal",
      "titleColor": "#333333",
      "titleLineHeight": 10
    }
  }
}
